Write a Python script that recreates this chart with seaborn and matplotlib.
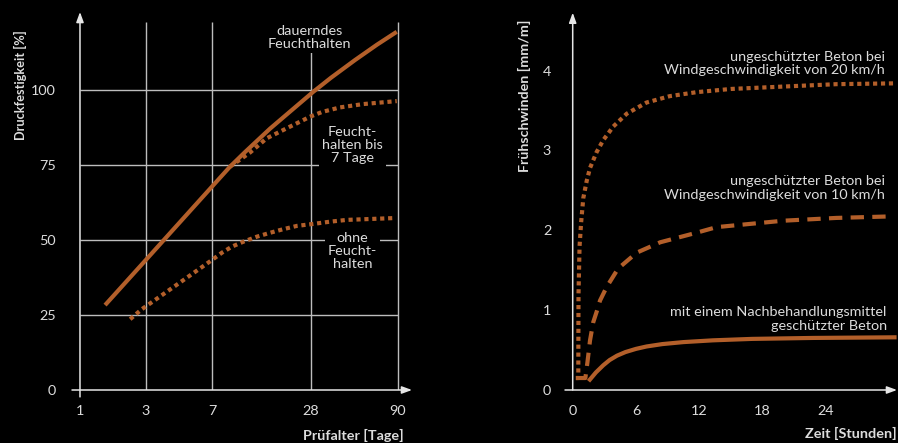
import matplotlib
matplotlib.use('Agg')
import matplotlib.pyplot as plt
import numpy as np
import seaborn as sns

# ---- data ----
# left: compressive strength [%] vs. test age [days]
solid_days = [1.76, 3, 7, 10.8, 14, 19.3, 24, 29.6, 42, 59.4, 75, 89.1]
solid_vals = [28.3, 43.4, 67.8, 74.4, 79.3, 87.1, 93.4, 99.4, 104, 110, 115.1, 119.4]

moist7_days = [10.8, 15.1, 18.6, 22.8, 27.8, 36, 48.7, 65, 89.1]
moist7_vals = [74.4, 79.2, 83.9, 87.2, 91.1, 92.7, 94.2, 95.3, 96.3]

dry_days = [2.52, 2.87, 5.57, 6.99, 9.13, 11.24, 13.6, 16.5, 19.3, 22.1, 25, 28.5, 41.5, 53.4, 70.1, 86.7]
dry_vals = [23.6, 26.9, 37.8, 43.3, 45.8, 47.8, 49.4, 51.1, 52.4, 53.6, 54.7, 55.3, 56.1, 56.7, 57.0, 57.3]

left_xticks = [1, 3, 7, 28, 90]
left_yticks = [0, 25, 50, 75, 100]

# right: early shrinkage [mm/m] vs. time [hours]
wind20_h = [0.3, 0.53, 0.55, 0.65, 0.8, 1.0, 1.33, 1.64, 2.27, 2.9, 3.85, 5.12, 7.0, 9.2,
            11.75, 15, 19.96, 25, 30.4]
wind20_v = [0.15, 0.15, 1.2, 1.8, 2.1, 2.4, 2.62, 2.78, 2.98, 3.13, 3.30, 3.46, 3.6, 3.68,
            3.73, 3.77, 3.8, 3.83, 3.84]

wind10_h = [0.3, 1.2, 1.4, 1.64, 1.95, 2.27, 2.59, 3.22, 4.3, 6.07, 8.3, 11.75, 13.65, 19.96,
            25, 30.4]
wind10_v = [0.15, 0.15, 0.35, 0.62, 0.85, 0.98, 1.12, 1.29, 1.52, 1.72, 1.85, 1.97, 2.04, 2.12,
            2.155, 2.175]

cured_h = [1.5, 2.2, 2.9, 3.5, 4.2, 5.0, 6.0, 7.0, 8.5, 10.5, 13.3, 17, 22.8, 30.7]
cured_v = [0.11, 0.22, 0.31, 0.375, 0.43, 0.475, 0.515, 0.545, 0.575, 0.60, 0.622, 0.64, 0.652, 0.66]

right_xticks = [0, 6, 12, 18, 24]
right_yticks = [0, 1, 2, 3, 4]

# the day axis of the original is neither linear nor log: map tick days to even-ish positions
day_anchor = [0, 1, 3, 7, 28, 90, 200]
pos_anchor = [-0.5, 0, 1, 2, 3.5, 4.818, 6.0]


def fwd(d):
    return np.interp(d, day_anchor, pos_anchor)


def inv(p):
    return np.interp(p, pos_anchor, day_anchor)


ORANGE = '#b35f2a'
GRID = '#bdbdbd'
TXT = '#dcdcdc'
AXC = '#e6e6e6'
DOT = (0, (1, 0.9))
FS = 10.4

sns.set_style('dark')
plt.rcParams.update({
    'figure.facecolor': 'black',
    'axes.facecolor': 'black',
    'savefig.facecolor': 'black',
    'text.color': TXT,
    'xtick.color': TXT,
    'ytick.color': TXT,
})
plt.rcParams['font.family'] = ['Lato', 'DejaVu Sans']

W, H = 898, 443
fig = plt.figure(figsize=(W / 100, H / 100), dpi=100)


def fx(px):
    return px / W


def fy(py):
    return 1 - py / H


arrow = dict(arrowstyle='-|>,head_length=0.6,head_width=0.22', color=AXC, lw=1.1,
             shrinkA=0, shrinkB=0)

# ---------------- left panel ----------------
ax1 = fig.add_axes([fx(72), fy(390), 340 / W, 378 / H])
ax1.set_xscale('function', functions=(fwd, inv))
ax1.set_xlim(inv(-0.121), inv(5.03))
ax1.set_ylim(0, 126)
for s in ax1.spines.values():
    s.set_visible(False)
ax1.grid(False)

ax1.hlines(left_yticks[1:], 1, 90, color=GRID, lw=1, zorder=1)
ax1.vlines(left_xticks[1:], 0, 122.7, color=GRID, lw=1, zorder=1)

sns.lineplot(x=dry_days, y=dry_vals, ax=ax1, color=ORANGE, lw=3,
             linestyle=DOT, dash_capstyle='butt', zorder=3)
sns.lineplot(x=moist7_days, y=moist7_vals, ax=ax1, color=ORANGE, lw=3,
             linestyle=DOT, dash_capstyle='butt', zorder=3)
sns.lineplot(x=solid_days, y=solid_vals, ax=ax1, color=ORANGE, lw=3,
             solid_capstyle='butt', zorder=4)

ax1.set_xticks(left_xticks)
ax1.set_xticklabels([str(t) for t in left_xticks])
ax1.set_yticks(left_yticks)
ax1.set_yticklabels([str(t) for t in left_yticks])
ax1.tick_params(axis='both', direction='out', length=5.8, width=1, color=GRID,
                labelsize=FS, labelcolor=TXT)
ax1.tick_params(axis='y', pad=6)
ax1.tick_params(axis='x', pad=5)
ax1.set_xlabel('')
ax1.set_ylabel('')

ax1.annotate('', xy=(1, 0), xycoords=('axes fraction', 'data'),
             xytext=(0, 0), textcoords=('axes fraction', 'data'),
             arrowprops=arrow, annotation_clip=False, zorder=5)
ax1.annotate('', xy=(1, 126), xycoords='data', xytext=(1, -2.3), textcoords='data',
             arrowprops=arrow, annotation_clip=False, zorder=5)

box = dict(facecolor='black', edgecolor='none', pad=2)
ax1.text(27.6, 117.6, 'dauerndes\nFeuchthalten', ha='center', va='center',
         fontsize=FS, linespacing=1.12, color=TXT, bbox=box, zorder=6)
ax1.text(57.5, 81.7, 'Feucht-\nhalten bis\n7 Tage', ha='center', va='center',
         fontsize=FS, linespacing=1.12, color=TXT, bbox=box, zorder=6)
ax1.text(57.5, 46.3, 'ohne\nFeucht-\nhalten', ha='center', va='center',
         fontsize=FS, linespacing=1.12, color=TXT, bbox=box, zorder=6)

fig.text(fx(20), fy(85), 'Druckfestigkeit [%]', rotation=90, ha='center', va='center',
         fontsize=9.2, fontweight='bold', color=TXT)
fig.text(fx(404), fy(435), 'Prüfalter [Tage]', ha='right', va='center',
         fontsize=10.4, fontweight='bold', color=TXT)

# ---------------- right panel ----------------
ax2 = fig.add_axes([fx(565), fy(390), 332 / W, 377.3 / H])
ax2.set_xlim(-0.73, 30.74)
ax2.set_ylim(0, 4.725)
for s in ax2.spines.values():
    s.set_visible(False)
ax2.grid(False)

sns.lineplot(x=wind20_h, y=wind20_v, ax=ax2, color=ORANGE, lw=3, sort=False,
             linestyle=DOT, dash_capstyle='butt', zorder=3)
sns.lineplot(x=wind10_h, y=wind10_v, ax=ax2, color=ORANGE, lw=3, sort=False,
             linestyle=(0, (3.2, 2.0)), dash_capstyle='butt', zorder=3)
sns.lineplot(x=cured_h, y=cured_v, ax=ax2, color=ORANGE, lw=3, sort=False,
             solid_capstyle='butt', zorder=4)

ax2.set_xticks(right_xticks)
ax2.set_xticklabels([str(t) for t in right_xticks])
ax2.set_yticks(right_yticks)
ax2.set_yticklabels([str(t) for t in right_yticks])
ax2.tick_params(axis='x', direction='out', length=7.5, width=1.1, color=AXC,
                labelsize=FS, labelcolor=TXT, pad=3.5)
ax2.tick_params(axis='y', direction='inout', length=17, width=1.1, color=AXC,
                labelsize=FS, labelcolor=TXT, pad=1.5)
ax2.xaxis.get_major_ticks()[0].tick1line.set_visible(False)
ax2.yaxis.get_major_ticks()[0].tick1line.set_visible(False)
ax2.set_xlabel('')
ax2.set_ylabel('')

ax2.annotate('', xy=(1, 0), xycoords=('axes fraction', 'data'),
             xytext=(0, 0), textcoords=('axes fraction', 'data'),
             arrowprops=arrow, annotation_clip=False, zorder=5)
ax2.annotate('', xy=(0, 4.725), xycoords='data', xytext=(0, 0), textcoords='data',
             arrowprops=arrow, annotation_clip=False, zorder=5)

ax2.text(29.6, 4.09, 'ungeschützter Beton bei\nWindgeschwindigkeit von 20 km/h',
         ha='right', va='center', fontsize=FS, linespacing=1.12, color=TXT, zorder=6)
ax2.text(29.6, 2.53, 'ungeschützter Beton bei\nWindgeschwindigkeit von 10 km/h',
         ha='right', va='center', fontsize=FS, linespacing=1.12, color=TXT, zorder=6)
ax2.text(29.76, 0.89, 'mit einem Nachbehandlungsmittel\ngeschützter Beton',
         ha='right', va='center', fontsize=FS, linespacing=1.12, color=TXT, zorder=6)

fig.text(fx(524), fy(96), 'Frühschwinden [mm/m]', rotation=90, ha='center', va='center',
         fontsize=10.3, fontweight='bold', color=TXT)
fig.text(fx(897), fy(433), 'Zeit [Stunden]', ha='right', va='center',
         fontsize=10.4, fontweight='bold', color=TXT)

fig.savefig('out.png', dpi=100)
